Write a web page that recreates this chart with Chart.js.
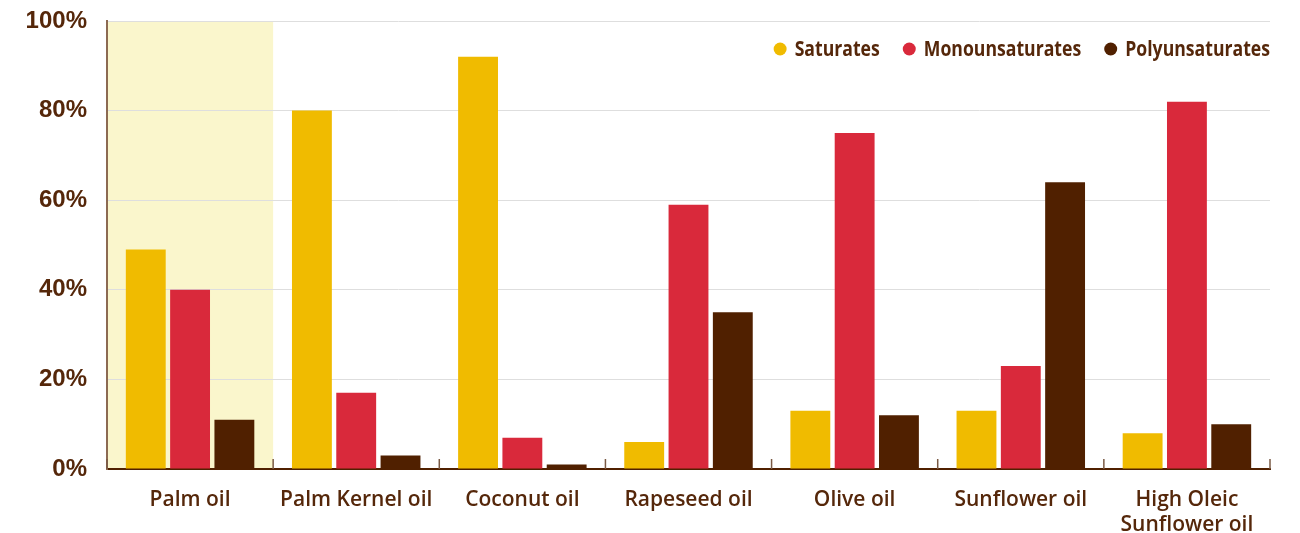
<!DOCTYPE html>
<html>
<head>
<meta charset="utf-8">
<script src="https://cdn.jsdelivr.net/npm/chart.js@4.4.1/dist/chart.umd.min.js"></script>
<style>
html,body{margin:0;padding:0;background:#fff;}
#wrap{width:1300px;height:533px;}
</style>
</head>
<body>
<div id="wrap"><canvas id="c" width="1300" height="533"></canvas></div>
<script>
const categories = ["Palm oil", "Palm Kernel oil", "Coconut oil", "Rapeseed oil", "Olive oil", "Sunflower oil", ["High Oleic", "Sunflower oil"]];
const seriesNames = ["Saturates", "Monounsaturates", "Polyunsaturates"];
const saturates = [49, 80, 92, 6, 13, 13, 8];
const monounsaturates = [40, 17, 7, 59, 75, 23, 82];
const polyunsaturates = [11, 3, 1, 35, 12, 64, 10];
const yTicks = [0, 20, 40, 60, 80, 100];
const highlightIndex = 0;

const colors = ["#F0BB00", "#D9293B", "#502000"];
const textColor = "#55270A";

const highlightPlugin = {
  id: 'highlight',
  beforeDraw(chart) {
    const x = chart.scales.x, a = chart.chartArea, ctx = chart.ctx;
    const w = (x.getPixelForValue(1) - x.getPixelForValue(0));
    const c = x.getPixelForValue(highlightIndex);
    ctx.save();
    ctx.fillStyle = "#FAF6CC";
    ctx.fillRect(c - w / 2, a.top, w, a.bottom - a.top);
    ctx.restore();
  }
};

const tickPlugin = {
  id: 'upticks',
  afterDatasetsDraw(chart) {
    const x = chart.scales.x, a = chart.chartArea, ctx = chart.ctx;
    const n = categories.length;
    const w = (x.getPixelForValue(1) - x.getPixelForValue(0));
    ctx.save();
    ctx.strokeStyle = "#7A5A44";
    ctx.lineWidth = 1.5;
    for (let i = 0; i <= n; i++) {
      const px = x.getPixelForValue(0) - w / 2 + i * w;
      ctx.beginPath();
      ctx.moveTo(px, a.bottom);
      ctx.lineTo(px, a.bottom - 10);
      ctx.stroke();
    }
    ctx.restore();
  }
};

const legendPlugin = {
  id: 'customLegend',
  afterDraw(chart) {
    const ctx = chart.ctx, a = chart.chartArea;
    ctx.save();
    ctx.font = "bold 21px 'Open Sans', sans-serif";
    ctx.textBaseline = 'middle';
    const sx = 0.84;
    const r = 6.5, gap = 8, itemGap = 23, y = 49;
    const ds = chart.data.datasets;
    const tw = ds.map(d => ctx.measureText(d.label).width * sx);
    const widths = tw.map(w => 2 * r + gap + w);
    let total = widths.reduce((s, v) => s + v, 0) + itemGap * (ds.length - 1);
    let xp = a.right - total;
    ds.forEach((d, i) => {
      ctx.fillStyle = d.backgroundColor;
      ctx.beginPath();
      ctx.arc(xp + r, y, r, 0, Math.PI * 2);
      ctx.fill();
      ctx.fillStyle = textColor;
      ctx.save();
      ctx.translate(xp + 2 * r + gap, y + 1);
      ctx.scale(sx, 1);
      ctx.fillText(d.label, 0, 0);
      ctx.restore();
      xp += widths[i] + itemGap;
    });
    ctx.restore();
  }
};

new Chart(document.getElementById('c'), {
  type: 'bar',
  data: {
    labels: categories,
    datasets: [
      { label: seriesNames[0], data: saturates, backgroundColor: colors[0] },
      { label: seriesNames[1], data: monounsaturates, backgroundColor: colors[1] },
      { label: seriesNames[2], data: polyunsaturates, backgroundColor: colors[2] }
    ]
  },
  options: {
    responsive: false,
    animation: false,
    devicePixelRatio: 1,
    layout: { padding: { top: 0, right: 30, left: 0, bottom: 0 } },
    datasets: { bar: { categoryPercentage: 0.8, barPercentage: 0.9 } },
    plugins: { legend: { display: false }, tooltip: { enabled: false } },
    scales: {
      x: {
        grid: { display: false },
        border: { display: true, color: "#502000", width: 2 },
        ticks: {
          color: textColor,
          font: { family: "'Open Sans', sans-serif", size: 21, weight: '600', lineHeight: 1.2 },
          padding: 10,
          maxRotation: 0,
          autoSkip: false
        },
        afterFit(s) { s.height = 64; }
      },
      y: {
        min: 0, max: 100,
        afterBuildTicks(s) { s.ticks = yTicks.map(v => ({ value: v })); },
        grid: { color: "#DEDEDE", lineWidth: 1, drawTicks: false },
        border: { display: true, color: "#8C6A52", width: 2 },
        ticks: {
          color: textColor,
          font: { family: "'Liberation Sans', sans-serif", size: 24, weight: 'bold' },
          padding: 20,
          callback: v => v + '%'
        },
        afterFit(s) { s.width = 107; s.paddingTop = 21; s.paddingBottom = 12; }
      }
    }
  },
  plugins: [highlightPlugin, tickPlugin, legendPlugin]
});
</script>
</body>
</html>
